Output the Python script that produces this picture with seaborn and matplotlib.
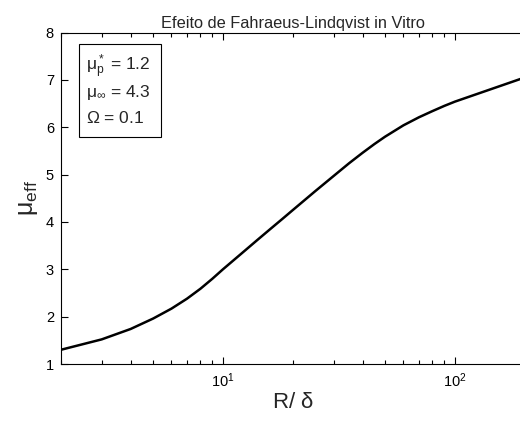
import matplotlib
matplotlib.use("Agg")
import matplotlib.pyplot as plt
import seaborn as sns
import pandas as pd
from matplotlib.patches import Rectangle

# Normalised tube radius R/delta and effective viscosity
radius_ratio = [2, 3, 4, 5, 6, 7, 8, 9, 10, 12, 14, 16, 18, 20, 25, 30, 35, 40, 45,
                50, 60, 70, 80, 90, 100, 200]
mu_eff = [1.30, 1.52, 1.74, 1.96, 2.17, 2.38, 2.59, 2.80, 3.00, 3.33, 3.61, 3.85,
          4.06, 4.25, 4.65, 4.97, 5.24, 5.46, 5.645, 5.80, 6.04, 6.21, 6.34, 6.45,
          6.54, 7.05]

# Model parameters shown in the annotation box
param_labels = [r"$\mu_p^*$ = 1.2", r"$\mu_\infty$ = 4.3", r"$\Omega$ = 0.1"]

sns.set_theme(style="ticks")
plt.rcParams["font.family"] = ["Liberation Sans", "DejaVu Sans"]
plt.rcParams["mathtext.fontset"] = "custom"
plt.rcParams["mathtext.rm"] = "Liberation Sans"
plt.rcParams["mathtext.it"] = "Liberation Sans"
plt.rcParams["mathtext.default"] = "regular"
plt.rcParams["axes.edgecolor"] = "black"
plt.rcParams["axes.linewidth"] = 0.8

df = pd.DataFrame({"R": radius_ratio, "mu": mu_eff})

fig = plt.figure(figsize=(5.2, 4.25), dpi=100)
ax = fig.add_axes([0.117, 0.1435, 0.892, 0.78])

sns.lineplot(data=df, x="R", y="mu", ax=ax, color="black", linewidth=1.8)

ax.set_xscale("log")
ax.set_xlim(2, 200)
ax.set_ylim(1, 8)
ax.set_yticks(range(1, 9))

ax.tick_params(axis="both", which="both", direction="in", top=True, right=False,
               labelsize=10.5, colors="black", width=0.8)
ax.tick_params(axis="both", which="major", length=5, pad=5)
ax.tick_params(axis="x", which="minor", length=3)

ax.set_title("Efeito de Fahraeus-Lindqvist in Vitro", fontsize=11.8, pad=3)
ax.set_xlabel(r"R/ $\delta$", fontsize=16, labelpad=2)
ax.set_ylabel(r"$\mu_{eff}$", fontsize=18, labelpad=4)

# Parameter box in the upper-left corner
ax.add_patch(Rectangle((0.04, 0.685), 0.175, 0.28, transform=ax.transAxes,
                       fill=False, edgecolor="black", linewidth=0.8))
for i, lbl in enumerate(param_labels):
    ax.text(0.055, 0.895 - i * 0.077, lbl, transform=ax.transAxes,
            fontsize=12.5, va="center", ha="left")

fig.savefig("out.png", dpi=100)
